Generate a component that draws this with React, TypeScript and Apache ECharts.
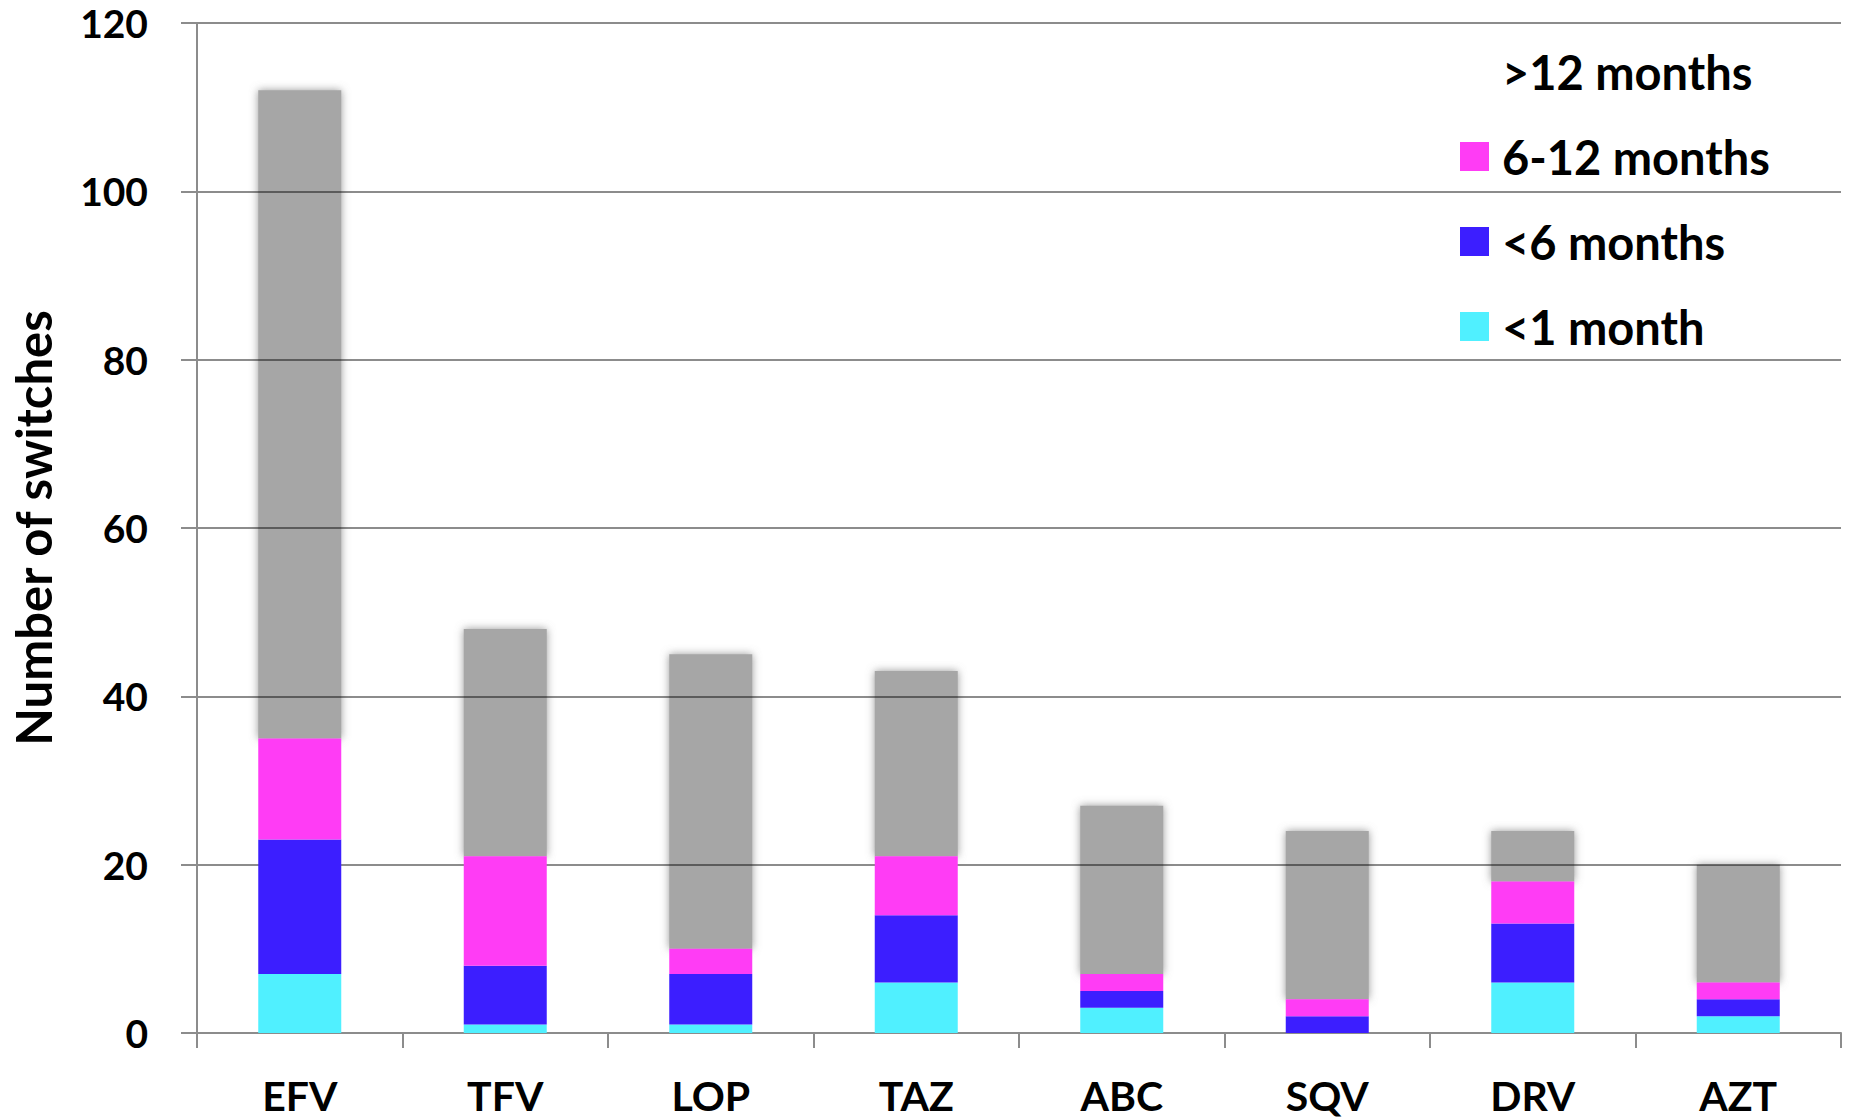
import React, { useEffect, useRef } from "react";
import * as echarts from "echarts";

const categories = ["EFV", "TFV", "LOP", "TAZ", "ABC", "SQV", "DRV", "AZT"];
const lessThan1Month = [7, 1, 1, 6, 3, 0, 6, 2];
const lessThan6Months = [16, 7, 6, 8, 2, 2, 7, 2];
const sixTo12Months = [12, 13, 3, 7, 2, 2, 5, 2];
const moreThan12Months = [77, 27, 35, 22, 20, 20, 6, 14];
const legendNames = [">12 months", "6-12 months", "<6 months", "<1 month"];
const yTicks = { min: 0, max: 120, interval: 20 };

const FONT = "Lato";

export default function App() {
  const ref = useRef<HTMLDivElement>(null);
  useEffect(() => {
    document.body.style.margin = "0";
    const chart = echarts.init(ref.current!, null, { renderer: "svg" });
    const colored = (name: string, data: number[], color: string) => ({
      name,
      type: "bar",
      stack: "total",
      barWidth: 83,
      z: 4,
      data,
      itemStyle: { color },
    });
    chart.setOption({
      animation: false,
      backgroundColor: "#ffffff",
      grid: { left: 192, right: 9, top: 23, bottom: 87, containLabel: false },
      legend: {
        orient: "vertical",
        left: 1455,
        top: 43,
        itemWidth: 29,
        itemHeight: 29,
        itemGap: 38,
        icon: "rect",
        selectedMode: false,
        textStyle: {
          fontFamily: FONT,
          fontWeight: "bold",
          fontSize: 47,
          lineHeight: 47,
          color: "#000",
          padding: [0, 0, 0, 8],
        },
        data: [
          { name: legendNames[0], itemStyle: { opacity: 0 } },
          { name: legendNames[1] },
          { name: legendNames[2] },
          { name: legendNames[3] },
        ],
      },
      xAxis: {
        type: "category",
        data: categories,
        z: 3,
        axisLine: { lineStyle: { color: "#8c8c8c", width: 2 } },
        axisTick: { show: true, length: 15, lineStyle: { color: "#8c8c8c", width: 2 } },
        axisLabel: {
          fontFamily: FONT,
          fontWeight: "bold",
          fontSize: 41,
          lineHeight: 34,
          color: "#000",
          margin: 45,
        },
      },
      yAxis: {
        type: "value",
        min: yTicks.min,
        max: yTicks.max,
        interval: yTicks.interval,
        z: 3,
        name: "Number of switches",
        nameLocation: "middle",
        nameGap: 140,
        nameTextStyle: {
          fontFamily: FONT,
          fontWeight: "bold",
          fontSize: 49,
          color: "#000",
        },
        axisLine: { show: true, lineStyle: { color: "#8c8c8c", width: 2 } },
        axisTick: { show: true, length: 16, lineStyle: { color: "#8c8c8c", width: 2 } },
        splitLine: { lineStyle: { color: "rgba(0,0,0,0.45)", width: 2 } },
        axisLabel: {
          fontFamily: FONT,
          fontWeight: "bold",
          fontSize: 39,
          lineHeight: 34,
          color: "#000",
          margin: 49,
        },
      },
      series: [
        colored(legendNames[3], lessThan1Month, "#50f0ff"),
        colored(legendNames[2], lessThan6Months, "#3c1eff"),
        colored(legendNames[1], sixTo12Months, "#ff3cf5"),
        {
          name: legendNames[0],
          type: "bar",
          stack: "total",
          barWidth: 83,
          z: 2,
          data: moreThan12Months,
          itemStyle: {
            color: "#a6a6a6",
            shadowBlur: 8,
            shadowColor: "rgba(140,140,140,0.9)",
          },
        },
      ],
    });
    return () => chart.dispose();
  }, []);
  return <div ref={ref} style={{ width: 1850, height: 1120 }} />;
}
